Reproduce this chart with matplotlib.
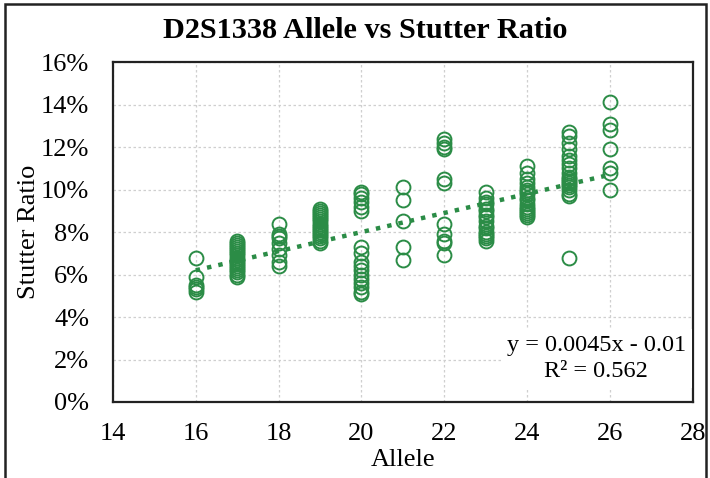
import matplotlib
matplotlib.use("Agg")
import matplotlib.pyplot as plt
from matplotlib.patches import Rectangle
from matplotlib.ticker import PercentFormatter, MultipleLocator

# allele -> stutter ratio (%)
alleles = [16, 17, 18, 19, 20, 21, 22, 23, 24, 25, 26]
ratios = {
    16: [6.8, 5.9, 5.5, 5.4, 5.3, 5.2],
    17: [7.6, 7.5, 7.4, 7.3, 7.2, 7.1, 7.0, 6.9, 6.8, 6.7, 6.6, 6.5, 6.4,
         6.3, 6.2, 6.1, 6.0, 5.9],
    18: [8.4, 7.9, 7.8, 7.7, 7.5, 7.2, 6.9, 6.6, 6.4],
    19: [9.1, 9.0, 8.9, 8.8, 8.7, 8.6, 8.5, 8.4, 8.3, 8.2, 8.1, 8.0, 7.9,
         7.8, 7.7, 7.6, 7.5],
    20: [9.9, 9.8, 9.6, 9.4, 9.2, 9.0, 7.3, 7.0, 6.6, 6.4, 6.2, 6.0, 5.8,
         5.6, 5.4, 5.2, 5.1],
    21: [10.1, 9.5, 8.5, 7.3, 6.7],
    22: [12.4, 12.2, 12.0, 11.9, 10.5, 10.3, 8.4, 7.9, 7.6, 7.5, 6.9],
    23: [9.9, 9.6, 9.4, 9.3, 9.1, 9.0, 8.8, 8.7, 8.5, 8.3, 8.2, 8.0, 7.9,
         7.8, 7.7, 7.6],
    24: [11.1, 10.8, 10.5, 10.3, 10.1, 10.0, 9.9, 9.8, 9.6, 9.5, 9.3, 9.2,
         9.1, 9.0, 8.9, 8.8, 8.7],
    25: [12.7, 12.5, 12.2, 11.9, 11.6, 11.4, 11.2, 11.0, 10.8, 10.6, 10.5,
         10.4, 10.3, 10.2, 10.1, 10.0, 9.8, 9.7, 6.8],
    26: [14.1, 13.1, 12.8, 11.9, 11.0, 10.8, 10.0],
}
# linear trendline shown on the chart (fraction units)
slope = 0.0045
intercept = -0.01
r_squared = 0.562

green = "#2b8c46"
serif = ["Liberation Serif", "DejaVu Serif"]
plt.rcParams["font.family"] = serif

fig = plt.figure(figsize=(7.1, 4.78), dpi=100)
ax = fig.add_axes([0.159, 0.159, 0.817, 0.711])

xs, ys = [], []
for a in alleles:
    for r in ratios[a]:
        xs.append(a)
        ys.append(r / 100)
ax.plot(xs, ys, "o", markersize=10, markerfacecolor="none",
        markeredgecolor=green, markeredgewidth=1.4, zorder=3)

# trendline over the data range
x_fit = [min(alleles), max(alleles)]
y_fit = [slope * x + intercept for x in x_fit]
ax.plot(x_fit, y_fit, linestyle=(0, (1, 1.6)), color=green, linewidth=3.2,
        zorder=4)

ax.set_xlim(14, 28)
ax.set_ylim(0, 0.16)
ax.xaxis.set_major_locator(MultipleLocator(2))
ax.yaxis.set_major_locator(MultipleLocator(0.02))
ax.yaxis.set_major_formatter(PercentFormatter(1.0, decimals=0))
ax.tick_params(length=0, labelsize=19)
ax.tick_params(axis="x", pad=15)
ax.tick_params(axis="y", pad=17)
ax.grid(True, color="#cfcfcf", linestyle=(0, (2, 2)), linewidth=0.9)
ax.set_axisbelow(True)
for s in ax.spines.values():
    s.set_linewidth(1.6)
    s.set_color("#222222")

ax.set_xlabel("Allele", fontsize=19, labelpad=3)
ax.set_ylabel("Stutter Ratio", fontsize=19, labelpad=1)

fig.text(0.514, 0.937, "D2S1338 Allele vs Stutter Ratio", ha="center",
         va="center", fontsize=21.8, fontweight="bold")

ax.text(0.988, 0.06, "y = %.4fx - %.2f\nR² = %.3f" % (slope, -intercept, r_squared),
        transform=ax.transAxes, ha="right", va="bottom", fontsize=17.5,
        multialignment="center", linespacing=1.3,
        bbox=dict(boxstyle="square,pad=0.25", facecolor="white",
                  edgecolor="none"), zorder=5)

# outer border of the scanned figure
fig.add_artist(Rectangle((5 / 710, -0.1), 701 / 710, 1.1 - 4 / 478,
                         transform=fig.transFigure, fill=False,
                         edgecolor="#222222", linewidth=1.8))

fig.savefig("out.png", dpi=100)
